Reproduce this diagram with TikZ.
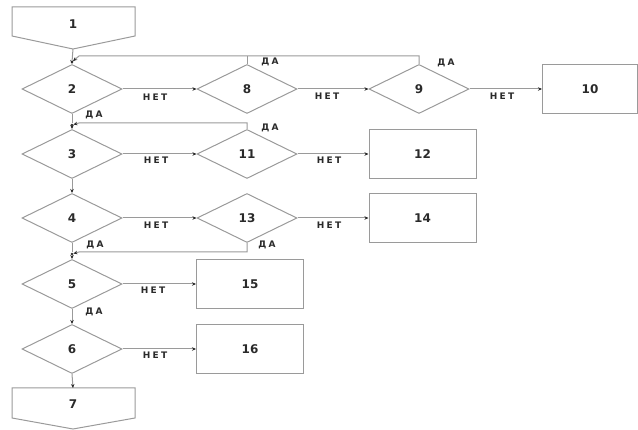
\documentclass[tikz,border=0pt]{standalone}
\usepackage{fontspec}
\setmainfont{DejaVu Sans}
\usetikzlibrary{shapes.geometric,arrows.meta}
\definecolor{ln}{HTML}{9A9A9A}
\definecolor{tx}{HTML}{2A2A2A}
\tikzset{
  dia/.style={diamond,draw=ln,line width=1pt,minimum width=100pt,minimum height=49pt,inner sep=1pt,font=\fontsize{12}{12}\selectfont\bfseries,text=tx},
  box/.style={rectangle,draw=ln,line width=1pt,minimum width=107pt,minimum height=49pt,font=\fontsize{12}{12}\selectfont\bfseries,text=tx},
  num/.style={font=\fontsize{12}{12}\selectfont\bfseries,text=tx},
  lbl/.style={font=\fontsize{9}{9}\selectfont\bfseries\addfontfeature{LetterSpace=25},text=tx,inner sep=0pt},
  con/.style={draw=ln,line width=1pt},
  arr/.style={con,-{Stealth[length=4pt,width=3.5pt,color=tx]}},
  jdot/.style={circle,fill=tx,inner sep=0pt,minimum size=2.6pt}
}
\begin{document}
\begin{tikzpicture}[x=1pt,y=-1pt]
\useasboundingbox (0,0) rectangle (638,430);
% start / end shapes
\draw[con] (12,7) -- (135,7) -- (135,36) -- (73,49) -- (12,36) -- cycle;
\node[num] (n1) at (73,24) {1};
\coordinate (n1b) at (73,49);
\draw[con] (12,388) -- (135,388) -- (135,418) -- (73,429) -- (12,418) -- cycle;
\node[num] (n7) at (73,404) {7};
\coordinate (n7t) at (73,388);
% decisions
\node[dia] (d2) at (72,89) {2};
\node[dia] (d8) at (247,89) {8};
\node[dia] (d9) at (419,89) {9};
\node[dia] (d3) at (72,154) {3};
\node[dia] (d11) at (247,154) {11};
\node[dia] (d4) at (72,218) {4};
\node[dia] (d13) at (247,218) {13};
\node[dia] (d5) at (72,284) {5};
\node[dia] (d6) at (72,349) {6};
% boxes
\node[box,minimum width=95pt] (b10) at (590,89) {10};
\node[box] (b12) at (422.5,154) {12};
\node[box] (b14) at (422.5,218) {14};
\node[box] (b15) at (250,284) {15};
\node[box] (b16) at (250,349) {16};
% junctions
\coordinate (j2) at (72,62);
\coordinate (j3) at (72,125);
\coordinate (j5) at (72,254);
\node[jdot] (k2) at (j2) {};
\node[jdot] (k3) at (j3) {};
\node[jdot] (k5) at (j5) {};
% main vertical flow
\draw[con] (n1b) -- (k2);
\draw[arr] (k2) -- (d2.north);
\draw[con] (d2.south) -- (k3);
\draw[arr] (k3) -- (d3.north);
\draw[arr] (d3.south) -- (d4.north);
\draw[con] (d4.south) -- (k5);
\draw[arr] (k5) -- (d5.north);
\draw[arr] (d5.south) -- (d6.north);
\draw[arr] (d6.south) -- (n7t);
% feedback (ДА) lines
\draw[arr] (d9.north) -- (419,56) -- (79,56) -- (k2);
\draw[con] (d8.north) -- (247,56);
\draw[arr] (d11.north) -- (247,123) -- (79,123) -- (k3);
\draw[arr] (d13.south) -- (247,252) -- (79,252) -- (k5);
% НЕТ lines
\draw[arr] (d2.east) -- (d8.west);
\draw[arr] (d8.east) -- (d9.west);
\draw[arr] (d9.east) -- (b10.west);
\draw[arr] (d3.east) -- (d11.west);
\draw[arr] (d11.east) -- (b12.west);
\draw[arr] (d4.east) -- (d13.west);
\draw[arr] (d13.east) -- (b14.west);
\draw[arr] (d5.east) -- (b15.west);
\draw[arr] (d6.east) -- (b16.west);
% labels НЕТ
\node[lbl,fill=white,inner sep=1pt] (t1) at (155,97) {НЕТ};
\node[lbl,fill=white,inner sep=1pt] (t2) at (327,96) {НЕТ};
\node[lbl,fill=white,inner sep=1pt] (t3) at (502,96) {НЕТ};
\node[lbl,fill=white,inner sep=1pt] (t4) at (156,160) {НЕТ};
\node[lbl,fill=white,inner sep=1pt] (t5) at (329,160) {НЕТ};
\node[lbl,fill=white,inner sep=1pt] (t6) at (156,225) {НЕТ};
\node[lbl,fill=white,inner sep=1pt] (t7) at (329,225) {НЕТ};
\node[lbl,fill=white,inner sep=1pt] (t8) at (153,290) {НЕТ};
\node[lbl,fill=white,inner sep=1pt] (t9) at (155,355) {НЕТ};
% labels ДА
\node[lbl] (y1) at (270,62) {ДА};
\node[lbl] (y2) at (446,63) {ДА};
\node[lbl] (y3) at (94,115) {ДА};
\node[lbl] (y4) at (270,128) {ДА};
\node[lbl] (y5) at (95,245) {ДА};
\node[lbl] (y6) at (267,245) {ДА};
\node[lbl] (y7) at (94,312) {ДА};
\end{tikzpicture}
\end{document}
